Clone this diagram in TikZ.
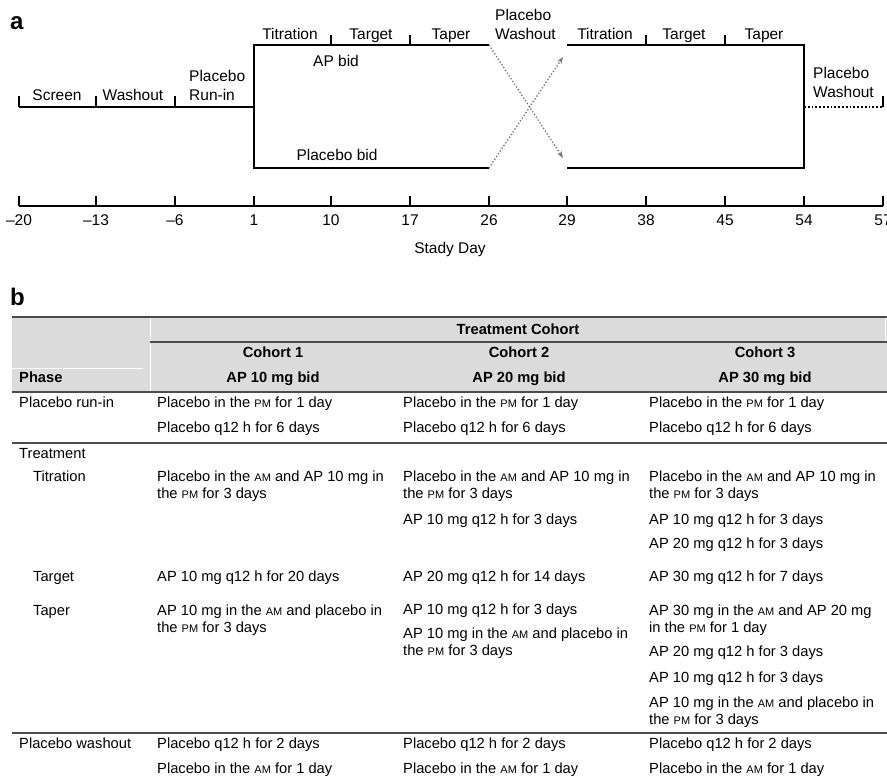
\documentclass[tikz,border=0pt]{standalone}
\usepackage{fontspec}
\setmainfont{Liberation Sans}
\usetikzlibrary{arrows.meta,positioning}

\definecolor{hdrgray}{gray}{0.86}
\newcommand{\tAM}{{\fontsize{11}{11}\selectfont AM}}
\newcommand{\tPM}{{\fontsize{11}{11}\selectfont PM}}

\tikzset{
  lbl/.style={font=\fontsize{15.5}{18.5}\selectfont, inner sep=0pt},
  cell/.style={font=\fontsize{14.7}{17}\selectfont, inner sep=0pt, anchor=base west, align=left},
  hdr/.style={font=\fontsize{14.7}{17}\selectfont\bfseries, inner sep=0pt, anchor=base},
  panel/.style={font=\fontsize{24}{24}\selectfont\bfseries, inner sep=0pt, anchor=base west},
  bar/.style={line width=2.4pt},
  tick/.style={line width=1.8pt},
  axisline/.style={line width=2pt},
  wash/.style={dotted, line width=1.8pt},
  cross/.style={black!55, dotted, line width=1.3pt, -{Stealth[length=7pt,width=5pt]}},
  rule/.style={line width=1.8pt, black!70},
}

\begin{document}
\begin{tikzpicture}[x=1pt,y=-1pt]
   \useasboundingbox (0,0) rectangle (887,776);

   % panel a: study timeline
   \node[panel] (pa) at (10,30) {a};

   \coordinate (hi) at (0,45);
   \coordinate (mid) at (0,107);
   \coordinate (lo) at (0,168);
   \coordinate (up) at (563,57);
   \coordinate (dn) at (563,158);

   \foreach \n/\x/\t in {m20/19/--20, m13/96/--13, m6/175/--6, 1/254/1, 10/331/10, 17/410/17,
                        26/489/26, 29/567/29, 38/646/38, 45/725/45, 54/804/54, 57/883/57} {
     \coordinate (d\n) at (\x,206);
     \draw[tick] (d\n) -- ++(0,-10);
     \node[lbl, anchor=base] (l\n) at (\x,225.5) {\t};
   }
   \draw[axisline] (dm20) -- (d57);
   \node[lbl, anchor=base] (xlab) at (450,253.5) {Stady Day};

   \draw[bar] (dm20 |- mid) -- (d1 |- mid);
   \foreach \n in {m20,m13,m6}
     \draw[tick] (d\n |- mid) -- ++(0,-11);
   \draw[bar] (d26 |- hi) -- (d1 |- hi) -- (d1 |- lo) -- (d26 |- lo);
   \draw[bar] (d29 |- hi) -- (d54 |- hi) -- (d54 |- lo) -- (d29 |- lo);
   \foreach \n in {10,17,38,45}
     \draw[tick] (d\n |- hi) -- ++(0,-10);
   \draw[wash] (d54 |- mid) -- (d57 |- mid);
   \draw[tick] (d57 |- mid) -- ++(0,-11);
   \draw[cross] (d26 |- hi) -- (dn);
   \draw[cross] (d26 |- lo) -- (up);

   % two-line labels sit on their last line
   \node[lbl, anchor=base] (screen) at (57,100.5) {Screen};
   \node[lbl, anchor=base] (washa) at (133,100.5) {Washout};
   \node[lbl, anchor=base west, align=left] (runin) at (189,100.5) {Placebo\\Run-in};
   \node[lbl, anchor=base] (tita) at (290,39.5) {Titration};
   \node[lbl, anchor=base] (tgta) at (371,39.5) {Target};
   \node[lbl, anchor=base] (tapa) at (451,39.5) {Taper};
   \node[lbl, anchor=base] (apbid) at (336,66.5) {AP bid};
   \node[lbl, anchor=base] (plbid) at (337,160.5) {Placebo bid};
   \node[lbl, anchor=base west, align=left] (washb) at (495,39.5) {Placebo\\Washout};
   \node[lbl, anchor=base] (titb) at (605,39.5) {Titration};
   \node[lbl, anchor=base] (tgtb) at (684,39.5) {Target};
   \node[lbl, anchor=base] (tapb) at (764,39.5) {Taper};
   \node[lbl, anchor=base west, align=left] (washc) at (813,97.5) {Placebo\\Washout};

   % panel b: dosing table
   \node[panel] (pb) at (10,305) {b};
   \fill[hdrgray] (12,317) rectangle (887,392);
   \draw[white, line width=1pt] (150,317) -- (150,392) (12,368) -- (143,368) (885,317) -- (885,342);
   \draw[rule] (12,317) -- (887,317);
   \draw[rule, line width=1.4pt] (150,342) -- (887,342);
   \draw[rule] (12,392) -- (887,392);
   \draw[rule] (12,443) -- (887,443);
   \draw[rule] (12,733) -- (887,733);

   \node[hdr] (tc) at (518,334.5) {Treatment Cohort};
   \node[hdr] (coa) at (273,357.5) {Cohort 1};
   \node[hdr] (cob) at (519,357.5) {Cohort 2};
   \node[hdr] (coc) at (765,357.5) {Cohort 3};
   \node[hdr, anchor=base west] (phase) at (19,382.5) {Phase};
   \node[hdr] (apa) at (273,382.5) {AP 10 mg bid};
   \node[hdr] (apb) at (519,382.5) {AP 20 mg bid};
   \node[hdr] (apc) at (765,382.5) {AP 30 mg bid};

   % placebo run-in
   \node[cell] (run) at (19,407.5) {Placebo run-in};
   \foreach \c/\x in {a/157, b/403, c/649} {
     \node[cell] (run\c1) at (\x,407.5) {Placebo in the \tPM{} for 1 day};
     \node[cell] (run\c2) at (\x,432.5) {Placebo q12 h for 6 days};
   }

   % treatment
   \node[cell] (trt) at (19,458.5) {Treatment};
   \node[cell] (tit) at (33,481.5) {Titration};
   \foreach \c/\x in {a/157, b/403, c/649}
     \node[cell] (tit\c1) at (\x,498.5) {Placebo in the \tAM{} and AP 10 mg in\\the \tPM{} for 3 days};
   \node[cell] (titb2) at (403,524.5) {AP 10 mg q12 h for 3 days};
   \node[cell] (titc2) at (649,524.5) {AP 10 mg q12 h for 3 days};
   \node[cell] (titc3) at (649,548.5) {AP 20 mg q12 h for 3 days};

   \node[cell] (tgt) at (33,581.5) {Target};
   \node[cell] (tgta1) at (157,581.5) {AP 10 mg q12 h for 20 days};
   \node[cell] (tgtb1) at (403,581.5) {AP 20 mg q12 h for 14 days};
   \node[cell] (tgtc1) at (649,581.5) {AP 30 mg q12 h for 7 days};

   \node[cell] (tap) at (33,615.5) {Taper};
   \node[cell] (tapa1) at (157,632.5) {AP 10 mg in the \tAM{} and placebo in\\the \tPM{} for 3 days};
   \node[cell] (tapb1) at (403,614) {AP 10 mg q12 h for 3 days};
   \node[cell] (tapb2) at (403,655.5) {AP 10 mg in the \tAM{} and placebo in\\the \tPM{} for 3 days};
   \node[cell] (tapc1) at (649,632.5) {AP 30 mg in the \tAM{} and AP 20 mg\\in the \tPM{} for 1 day};
   \node[cell] (tapc2) at (649,656) {AP 20 mg q12 h for 3 days};
   \node[cell] (tapc3) at (649,682.5) {AP 10 mg q12 h for 3 days};
   \node[cell] (tapc4) at (649,724) {AP 10 mg in the \tAM{} and placebo in\\the \tPM{} for 3 days};

   % placebo washout
   \node[cell] (pw) at (19,748.5) {Placebo washout};
   \foreach \c/\x in {a/157, b/403, c/649} {
     \node[cell] (pw\c1) at (\x,748.5) {Placebo q12 h for 2 days};
     \node[cell] (pw\c2) at (\x,773.5) {Placebo in the \tAM{} for 1 day};
   }
\end{tikzpicture}
\end{document}
